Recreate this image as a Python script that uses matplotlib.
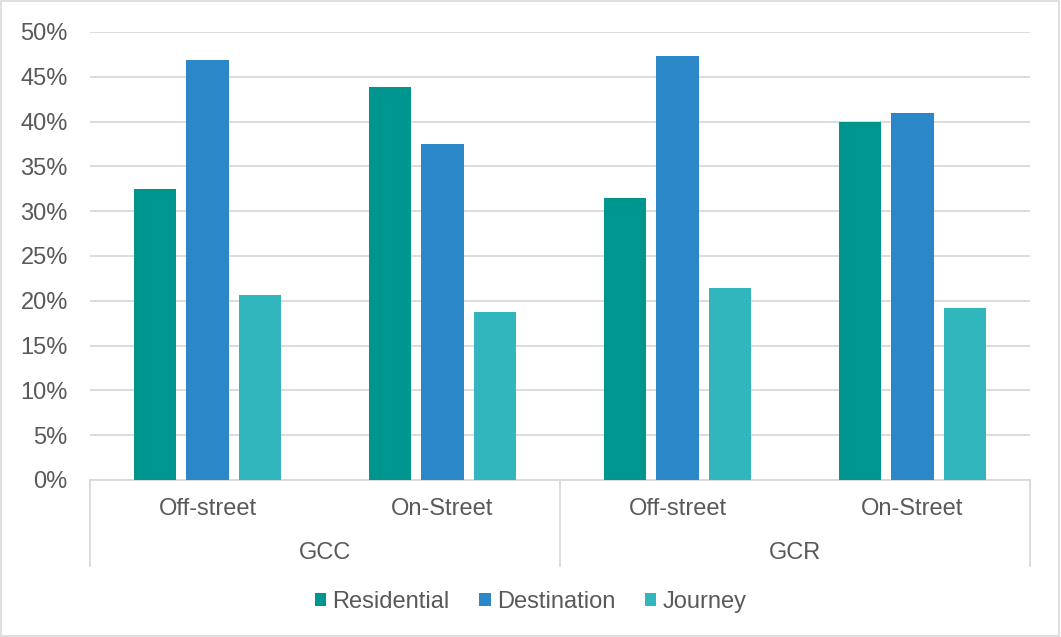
import matplotlib
matplotlib.use("Agg")
import matplotlib.pyplot as plt
import matplotlib.transforms as mtransforms
from matplotlib.patches import Rectangle
from matplotlib.ticker import PercentFormatter
import numpy as np

plt.rcParams["font.family"] = ["Liberation Sans", "DejaVu Sans"]

# data
groups = ["GCC", "GCR"]
subcats = ["Off-street", "On-Street", "Off-street", "On-Street"]
series = ["Residential", "Destination", "Journey"]
residential = [0.325, 0.439, 0.315, 0.400]
destination = [0.469, 0.375, 0.473, 0.410]
journey = [0.206, 0.187, 0.214, 0.192]
colors = ["#009690", "#2B87C8", "#31B6BD"]

TEXT = "#595959"
GRID = "#D9D9D9"
FS = 17

fig = plt.figure(figsize=(10.61, 6.37), dpi=100)
ax = fig.add_axes([90 / 1061, 1 - 480 / 637, 940 / 1061, 448 / 637])

x = np.arange(len(subcats))
width = 0.18
step = 0.223
for j, (name, vals) in enumerate(zip(series, [residential, destination, journey])):
    ax.bar(x + (j - 1) * step, vals, width, color=colors[j], label=name, zorder=3)

ax.set_xlim(-0.5, len(subcats) - 0.5)
ax.set_ylim(0, 0.5)
ax.set_yticks(np.arange(0, 0.51, 0.05))
ax.yaxis.set_major_formatter(PercentFormatter(1.0, decimals=0))
ax.tick_params(axis="y", length=0, pad=16, labelsize=FS, labelcolor=TEXT)
ax.set_xticks([])
ax.grid(axis="y", color=GRID, linewidth=1.3, zorder=0)
for s in ["top", "right", "left"]:
    ax.spines[s].set_visible(False)
ax.spines["bottom"].set_color(GRID)
ax.spines["bottom"].set_linewidth(1.3)

# two-level category axis
trans = mtransforms.blended_transform_factory(ax.transData, fig.transFigure)
for xi, lab in zip(x, subcats):
    ax.text(xi, 1 - 509 / 637, lab, transform=trans, ha="center", va="center",
            fontsize=FS, color=TEXT)
for gi, g in enumerate(groups):
    ax.text(2 * gi + 0.5, 1 - 553 / 637, g, transform=trans, ha="center",
            va="center", fontsize=FS, color=TEXT)
for xs in [-0.5, 1.5, 3.5]:
    ax.plot([xs, xs], [1 - 480 / 637, 1 - 566 / 637], transform=trans,
            color=GRID, linewidth=1.3, clip_on=False)

leg = fig.legend(loc="center", bbox_to_anchor=(0.5, 1 - 602 / 637), ncol=3,
                 frameon=False, fontsize=FS, handlelength=0.5,
                 handleheight=0.5, handletextpad=0.25, columnspacing=1.25)
for t in leg.get_texts():
    t.set_color(TEXT)

fig.patches.append(Rectangle((0.001, 0.001), 0.997, 0.997, transform=fig.transFigure,
                             fill=False, edgecolor=GRID, linewidth=1.2))

fig.savefig("out.png", dpi=100)
